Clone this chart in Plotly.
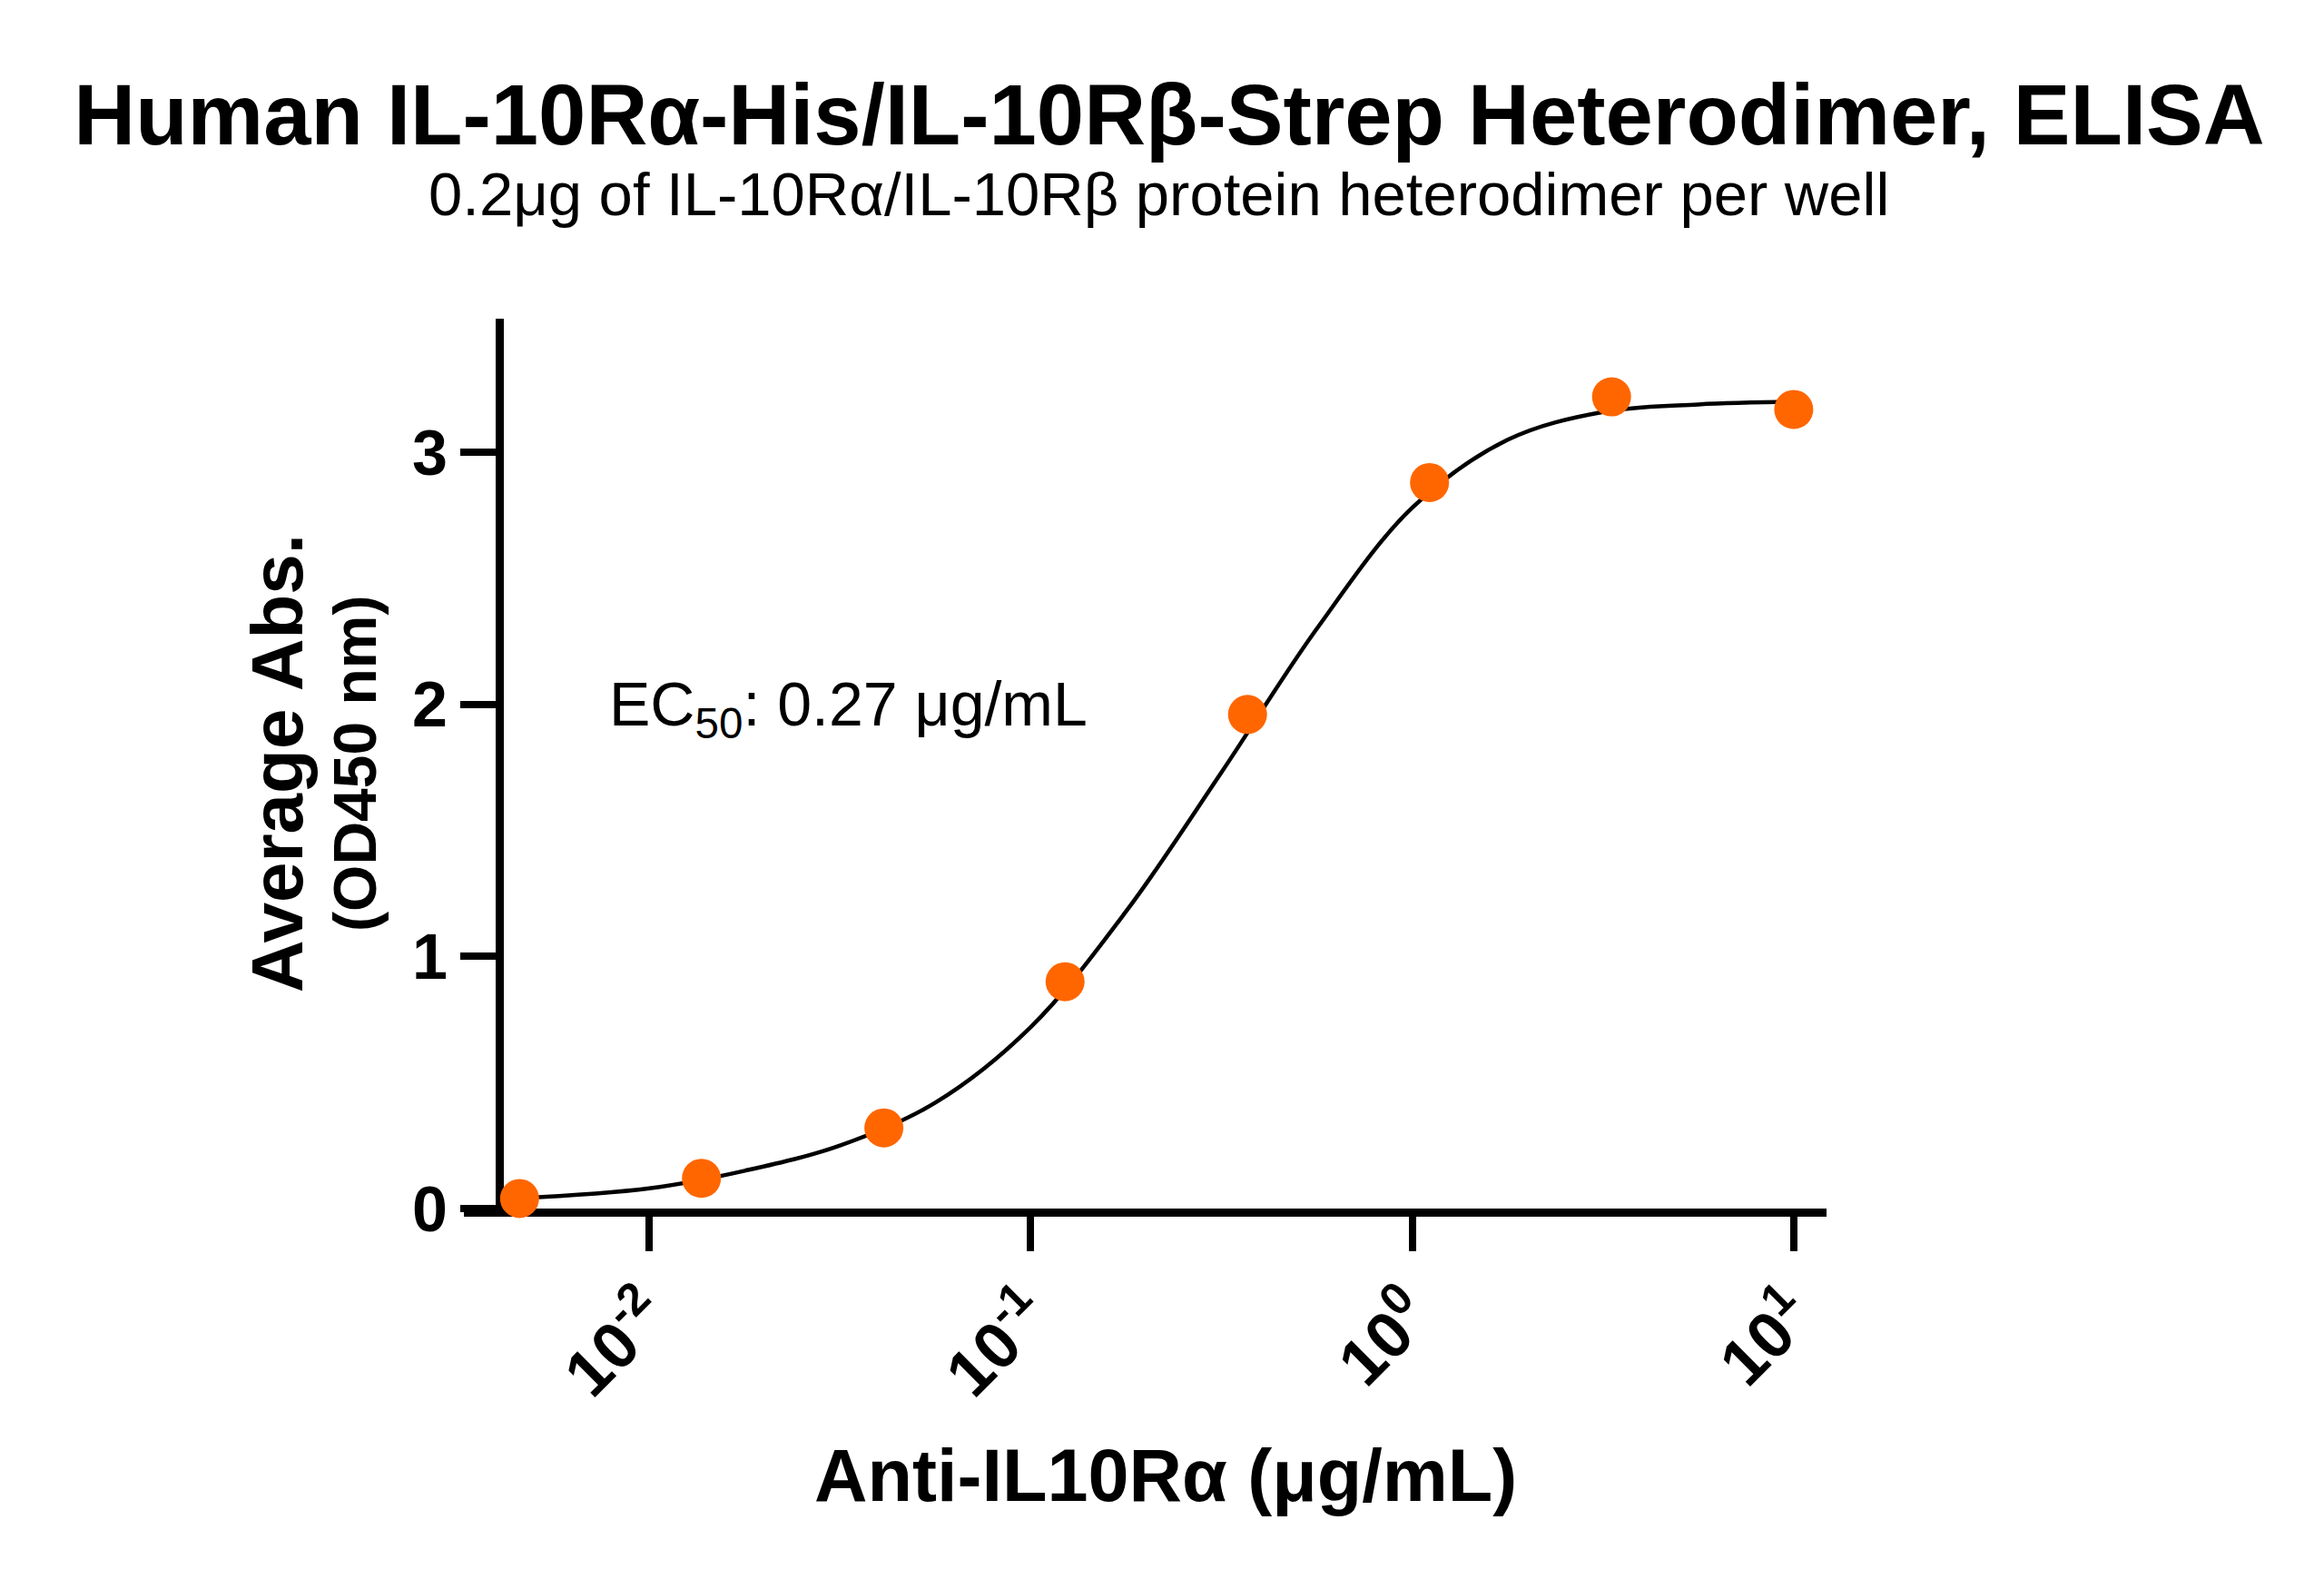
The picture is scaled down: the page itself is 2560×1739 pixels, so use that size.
import plotly.graph_objects as go

# concentrations (ug/mL), 3-fold dilution series, and mean OD450
conc = [0.00457, 0.0137, 0.0412, 0.123, 0.370, 1.11, 3.33, 10.0]
od450 = [0.04, 0.12, 0.32, 0.90, 1.96, 2.88, 3.22, 3.17]

# fitted curve
curve_x = [0.00447, 0.01, 0.0178, 0.0316, 0.0562, 0.1, 0.178, 0.316,
           0.562, 1.0, 1.78, 3.16, 5.62, 10.0]
curve_y = [0.04, 0.08, 0.15, 0.25, 0.42, 0.72, 1.18, 1.73,
           2.30, 2.78, 3.05, 3.16, 3.19, 3.20]

xtick_vals = [0.01, 0.1, 1, 10]
xtick_text = ["10<sup>-2</sup>", "10<sup>-1</sup>", "10<sup>0</sup>", "10<sup>1</sup>"]
ytick_vals = [0, 1, 2, 3]

FONT = "Liberation Sans, Arial, sans-serif"
ORANGE = "#FF6600"

fig = go.Figure()

fig.add_trace(go.Scatter(x=curve_x, y=curve_y, mode="lines",
                         line=dict(color="black", width=4.5, shape="spline"),
                         hoverinfo="skip", showlegend=False, cliponaxis=False))

fig.add_trace(go.Scatter(x=conc, y=od450, mode="markers",
                         marker=dict(color=ORANGE, size=43),
                         showlegend=False, cliponaxis=False))

fig.update_layout(
    width=2560, height=1739,
    paper_bgcolor="white", plot_bgcolor="white",
    margin=dict(l=503, r=556, t=343, b=416),
    font=dict(family=FONT, color="black"),
    title=dict(text="<b>Human IL-10Rα-His/IL-10Rβ-Strep Heterodimer, ELISA</b>",
               x=0.5, xanchor="center", y=0.932, yanchor="middle",
               font=dict(size=94, family=FONT, color="black")),
)

fig.update_xaxes(type="log", range=[-2.486, 1.086],
                 showline=True, linewidth=9, linecolor="black",
                 showgrid=False, zeroline=False, layer="below traces",
                 tickvals=xtick_vals, ticktext=xtick_text,
                 ticks="outside", ticklen=38, tickwidth=8, tickcolor="black",
                 tickangle=-45,
                 tickfont=dict(size=72, family=FONT, color="black", weight="bold"))

fig.update_yaxes(range=[0, 3.53], anchor="free", position=0.026,
                 showline=True, linewidth=9, linecolor="black",
                 showgrid=False, zeroline=False, layer="below traces",
                 tickvals=ytick_vals,
                 ticks="outside", ticklen=39, tickwidth=8, tickcolor="black",
                 tickfont=dict(size=70, family=FONT, color="black", weight="bold"))

fig.add_annotation(text="0.2μg of IL-10Rα/IL-10Rβ protein heterodimer per well",
                   xref="paper", yref="paper", x=0.51, y=1.14,
                   xanchor="center", yanchor="middle", showarrow=False,
                   font=dict(size=67, family=FONT, color="black"))

fig.add_annotation(text="<b>Average Abs.</b>", textangle=-90,
                   xref="paper", yref="paper", x=-0.137, y=0.5,
                   xanchor="center", yanchor="middle", showarrow=False,
                   font=dict(size=80, family=FONT, color="black"))
fig.add_annotation(text="<b>(OD450 nm)</b>", textangle=-90,
                   xref="paper", yref="paper", x=-0.08, y=0.5,
                   xanchor="center", yanchor="middle", showarrow=False,
                   font=dict(size=66, family=FONT, color="black"))

fig.add_annotation(text="<b>Anti-IL10Rα (μg/mL)</b>",
                   xref="paper", yref="paper", x=0.515, y=-0.3,
                   xanchor="center", yanchor="middle", showarrow=False,
                   font=dict(size=81, family=FONT, color="black"))

fig.add_annotation(text="EC<sub>50</sub>: 0.27 μg/mL",
                   xref="paper", yref="paper", x=0.105, y=0.562,
                   xanchor="left", yanchor="middle", showarrow=False,
                   font=dict(size=68, family=FONT, color="black"))

fig.write_html("out.html")
